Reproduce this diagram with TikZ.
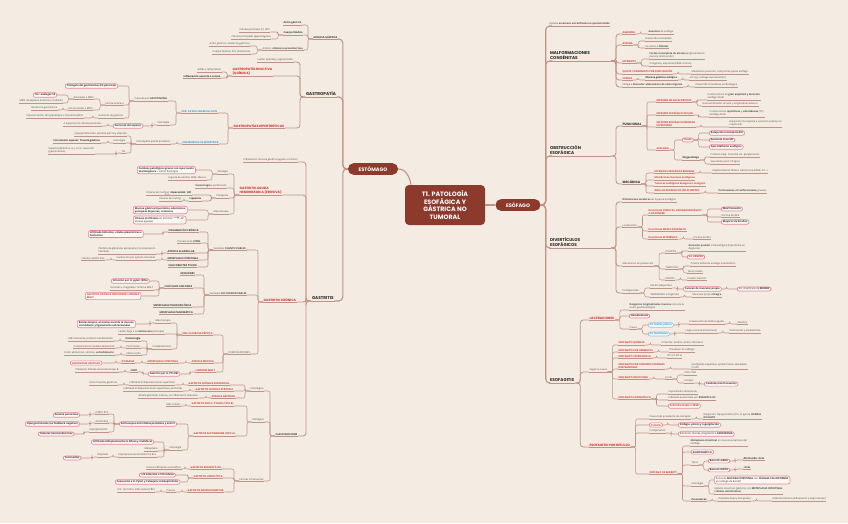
\documentclass[tikz,border=0pt]{standalone}
\usepackage{fontspec}
\setmainfont{Open Sans}
\newfontfamily\headfont{Poppins}

\definecolor{fondo}{HTML}{F4ECE3}
\definecolor{caja}{HTML}{FBF7F3}
\definecolor{linea}{HTML}{BE9486}
\definecolor{granate}{HTML}{8C3A2C}
\definecolor{rojo}{HTML}{D6332E}
\definecolor{azul}{HTML}{2C9AD3}
\definecolor{rosa}{HTML}{E7849A}
\definecolor{texto}{HTML}{4A4542}
\definecolor{oscuro}{HTML}{2E2A28}

\newcommand{\lft}[3][conn]{\draw[#1] (#2) -- ++(-5pt,0) |- (#3);}
\newcommand{\rgt}[3][conn]{\draw[#1] (#2) -- ++(5pt,0) |- (#3);}

\begin{document}
\begin{tikzpicture}[
    x=1pt, y=-1pt,
    conn/.style={draw=linea, line width=0.55pt, rounded corners=2pt},
    mid/.style={draw=linea, line width=0.85pt, rounded corners=3pt},
    main/.style={draw=linea, line width=1.1pt, rounded corners=4pt},
    txt/.style={anchor=south west, inner sep=0.5pt, align=left, text=texto,
      font=\fontsize{2.5}{3}\selectfont},
    leaf/.style={txt, append after command={(\tikzlastnode.south west) edge[conn] (\tikzlastnode.south east)}},
    bleaf/.style={leaf, text=oscuro, font=\fontsize{2.5}{3}\selectfont\bfseries},
    rleaf/.style={leaf, text=rojo, font=\fontsize{2.5}{3}\selectfont\bfseries},
    aleaf/.style={leaf, text=azul, font=\fontsize{2.5}{3}\selectfont\bfseries},
    rhead/.style={leaf, text=rojo, font=\headfont\fontsize{3.2}{3.8}\selectfont\bfseries},
    subh/.style={leaf, text=oscuro, font=\headfont\fontsize{3.2}{3.8}\selectfont\bfseries},
    head/.style={txt, inner sep=0.8pt, text=oscuro, font=\headfont\fontsize{4.2}{5}\selectfont\bfseries,
      append after command={(\tikzlastnode.south west) edge[mid] (\tikzlastnode.south east)}},
    box/.style={anchor=west, draw=rosa, line width=0.6pt, rounded corners=2pt, fill=caja,
      inner xsep=1.6pt, inner ysep=1pt, align=left, text=oscuro, font=\fontsize{2.5}{3}\selectfont\bfseries},
    boxn/.style={box, font=\fontsize{2.5}{3}\selectfont},
    rbox/.style={box, text=rojo},
    abox/.style={box, draw=azul!55, text=azul},
    pill/.style={fill=granate, text=white, rounded corners=5.5pt, minimum height=11pt, inner xsep=5pt,
      font=\headfont\fontsize{5}{6}\selectfont\bfseries},
    core/.style={fill=granate, text=white, rounded corners=4pt, minimum width=80pt, minimum height=40pt,
      align=center, font=\headfont\fontsize{6.3}{7.6}\selectfont\bfseries}
  ]

    % 1. Fondo y centro
    \useasboundingbox (0,0) rectangle (848,523);
    \fill[fondo] (0,0) rectangle (848,523);
    \node[core] (core) at (445,205) {T1. PATOLOGÍA\\ESOFÁGICA Y\\GÁSTRICA NO\\TUMORAL};
    \node[pill, minimum width=50pt] (est) at (373,169) {ESTÓMAGO};
    \node[pill, minimum width=45pt] (eso) at (518,205) {ESÓFAGO};
    \draw[main] ([xshift=-34pt]core.north) to[out=100,in=0] (est.east);
    \draw[main] (core.east) -- (eso.west);

    % 2. Estómago
    \node[bleaf] (mg) at (313,39) {MUCOSA GÁSTRICA};
    \node[head] (gp) at (305,97) {GASTROPATÍA};
    \node[head] (gt) at (311,301) {GASTRITIS};
    \foreach \n in {mg,gp,gt} {\lft[main]{est.west}{\n.south east}}

    % 2.1 Mucosa gástrica
    \node[bleaf] (mg1) at (283,25) {Antro gástrico};
    \node[bleaf] (mg2) at (283,35) {Cuerpo fúndico};
    \node[leaf] (mg21) at (239,32) {Células parietales (FI, HCl)};
    \node[leaf] (mg22) at (231,39) {Células principales (pepsinógeno)};
    \node[leaf] (mg3) at (262,50) {Ambos: \textbf{células neuroendocrinas}};
    \node[leaf] (mg31) at (209,46) {Antro gástrico: células G (gastrina)};
    \node[leaf] (mg32) at (212,54) {Cuerpo fúndico: ECL (histamina)};
    \foreach \n in {mg1,mg2,mg3} {\lft{mg.south west}{\n.south east}}
    \foreach \n in {mg21,mg22} {\lft{mg2.south west}{\n.south east}}
    \foreach \n in {mg31,mg32} {\lft{mg3.south west}{\n.south east}}

    % 2.2 Gastropatía
    \node[leaf] (gp1) at (257,62) {Lesión epitelial y regeneración};
    \node[rhead] (gpr) at (232,76) {GASTROPATÍA REACTIVA\\(QUÍMICA)};
    \node[rhead] (gph) at (233,128) {GASTROPATÍAS HIPERTRÓFICAS};
    \foreach \n in {gp1,gpr,gph} {\lft[mid]{gp.south west}{\n.south east}}
    \node[leaf] (gpr1) at (197,72) {AINEs y reflujo biliar};
    \node[bleaf] (gpr2) at (183,78) {Inflamación ausente o escasa};
    \foreach \n in {gpr1,gpr2} {\lft{gpr.south west}{\n.south east}}

    \node[aleaf] (zes) at (181,113) {SDR. DE ZOLLINGER-ELLISON};
    \node[aleaf] (mnt) at (182,144) {ENFERMEDAD DE MÉNÉTRIER};
    \foreach \n in {zes,mnt} {\lft{gph.south west}{\n.south east}}
    \node[leaf] (zes1) at (134,101) {Causado por \textbf{GASTRINOMA}};
    \node[leaf] (zes2) at (157,125) {Histología};
    \foreach \n in {zes1,zes2} {\lft{zes.south west}{\n.south east}}
    \node[box] (tri) at (65,86) {Triángulo del gastrinoma (2/3 páncreas)};
    \node[leaf] (ulc) at (105,105) {Forma la úlcera};
    \node[leaf] (aum) at (98,118) {Aumento de gastrina};
    \lft{zes1.south west}{tri.east}
    \foreach \n in {ulc,aum} {\lft{zes1.south west}{\n.south east}}
    \node[leaf] (men) at (73,99) {Asociadas a MEN};
    \node[leaf] (nomen) at (68,110) {No asociadas a MEN};
    \foreach \n in {men,nomen} {\lft{ulc.south west}{\n.south east}}
    \node[box] (tto) at (33,95) {Tto: análogos SS};
    \node[leaf] (men1) at (19,103) {MEN I (neoplasia endocrina múltiple)};
    \lft{men.south west}{tto.east}
    \lft{men.south west}{men1.south east}
    \node[leaf] (resec) at (31,110) {Resección gastrinoma};
    \lft{nomen.south west}{resec.south east}
    \node[leaf] (aum1) at (26,118) {Hipersecreción HCl (parietales) e histamina (ECL)};
    \lft{aum.south west}{aum1.south east}
    \node[box] (esp) at (113,126) {Aumento del espesor};
    \lft{zes2.south west}{esp.east}
    \node[leaf] (esp1) at (63,126) {A expensas de células parietales};
    \lft{esp.west}{esp1.south east}

    \node[leaf] (mnt1) at (136,144) {Enteropatía pierde proteínas};
    \lft{mnt.south west}{mnt1.south east}
    \node[leaf] (mnt11) at (74,136) {Hiperproliferación, pérdida parcial y alterada};
    \node[leaf] (mnt12) at (113,143) {Histología};
    \node[leaf] (mnt13) at (121,153) {Tto};
    \foreach \n in {mnt11,mnt12,mnt13} {\lft{mnt1.south west}{\n.south east}}
    \node[bleaf] (mnt121) at (53,143) {Incremento espesor: foveola gástrica};
    \lft{mnt12.south west}{mnt121.south east}
    \node[leaf] (mnt131) at (48,154) {Soporte (albúmina i.v.), si no: resección\\(gastrectomía)};
    \lft{mnt13.south west}{mnt131.south east}

    % 2.3 Gastritis
    \node[leaf] (gt1) at (243,162) {Inflamación mucosa gástrica (agudo o crónico)};
    \node[rhead] (gta) at (239,195) {GASTRITIS AGUDA\\HEMORRÁGICA (EROSIVA)};
    \node[rhead] (gtc) at (263,302) {GASTRITIS CRÓNICA};
    \node[bleaf] (cls) at (275,436) {CLASIFICACIONES};
    \foreach \n in {gt1,gta,gtc,cls} {\lft[mid]{gt.south west}{\n.south east}}

    \node[leaf] (gta1) at (217,174) {Etiología};
    \node[leaf] (gta2) at (195,188) {\textbf{Hemorragia} y perforación};
    \node[leaf] (gta3) at (216,198) {Patogenia};
    \node[leaf] (gta4) at (213,214) {Macroscopía};
    \foreach \n in {gta1,gta2,gta3,gta4} {\lft{gta.south west}{\n.south east}}
    \node[boxn] (gta11) at (137,170) {\textbf{Cambios patológicos graves con repercusión}\\\textbf{multiorgánica} + estrés fisiológico};
    \node[leaf] (gta12) at (168,180) {Ingesta de alcohol, AINE, tóxicos};
    \lft{gta1.south west}{gta11.east}
    \lft{gta1.south west}{gta12.south east}
    \node[bleaf] (gta31) at (170,195) {Hiperacidez: HCl};
    \node[bleaf] (gta32) at (189,201) {Isquemia};
    \foreach \n in {gta31,gta32} {\lft{gta3.south west}{\n.south east}}
    \node[leaf] (gta311) at (146,195) {Úlceras de Cushing};
    \node[leaf] (gta321) at (159,201) {Úlceras de Curling};
    \lft{gta31.south west}{gta311.south east}
    \lft{gta32.south west}{gta321.south east}
    \node[box] (gta41) at (133,210) {Mucosa gástrica hiperémica, edematosa,\\petequias dispersas, erosiones};
    \node[boxn] (gta42) at (133,220) {\textbf{Úlceras (no fibrosis} en el fondo $\to$ AP:\\úlceras agudas)};
    \foreach \n in {gta41,gta42} {\lft{gta4.south west}{\n.east}}

    % 2.4 Gastritis crónica
    \node[leaf] (vc) at (213,250) {Variables \textbf{CUANTIFICABLES}};
    \node[leaf] (vn) at (209,295) {Variables \textbf{NO CUANTIFICABLES}};
    \node[leaf] (cmp) at (228,354) {COMPLICACIONES};
    \foreach \n in {vc,vn,cmp} {\lft{gtc.south west}{\n.south east}}
    \node[bleaf] (vc1) at (168,232) {INFLAMACIÓN CRÓNICA};
    \node[leaf] (vc2) at (177,243) {Presencia de \textbf{LPMN}};
    \node[bleaf] (vc3) at (167,253) {ATROFIA GLANDULAR};
    \node[bleaf] (vc4) at (167,260) {METAPLASIA INTESTINAL};
    \node[bleaf] (vc5) at (168,267) {HELICOBACTER PYLORI};
    \foreach \n in {vc1,vc2,vc3,vc4,vc5} {\lft{vc.south west}{\n.south east}}
    \node[box] (vc11) at (88,234) {Infiltrado linfocitos, células plasmáticas e\\histiocitos};
    \lft{vc1.south west}{vc11.east}
    \node[leaf] (vc31) at (98,254) {Pérdida de glándulas apropiadas (no localización\\habitual)};
    \lft{vc3.south west}{vc31.south east}
    \node[leaf] (vc41) at (116,260) {Sustitución por epitelio intestinal};
    \node[leaf] (vc411) at (81,260) {Células caliciformes};
    \lft{vc4.south west}{vc41.south east}
    \lft{vc41.south west}{vc411.south east}

    \node[bleaf] (vn1) at (180,275) {EROSIONES};
    \node[bleaf] (vn2) at (164,288) {FOLÍCULOS LINFOIDES};
    \node[bleaf] (vn3) at (153,307) {METAPLASIA PSEUDOPILÓRICA};
    \node[bleaf] (vn4) at (159,314) {METAPLASIA PANCREÁTICA};
    \foreach \n in {vn1,vn2,vn3,vn4} {\lft{vn.south west}{\n.south east}}
    \node[box] (vn21) at (111,281) {Infección por H. pylori (90\%)};
    \node[leaf] (vn22) at (110,290) {Grandes e irregulares: linfoma MALT};
    \node[rbox] (vn23) at (85,296) {GASTRITIS CRÓNICA PRECURSOR LINFOMA\\MALT};
    \lft{vn2.south west}{vn21.east}
    \lft{vn2.south west}{vn22.south east}
    \lft{vn2.south west}{vn23.east}

    % 2.5 Complicaciones
    \node[rleaf] (ulp) at (182,335) {ENF. ULCEROSA PÉPTICA};
    \node[rleaf] (atm) at (191,363) {ATROFIA MUCOSA};
    \node[rleaf] (lmm) at (195,372) {LINFOMA MALT};
    \foreach \n in {ulp,atm,lmm} {\lft{cmp.south west}{\n.south east}}
    \node[leaf] (ulp1) at (155,323) {Macroscopía};
    \node[leaf] (ulp2) at (118,334) {Lesión llega a la \textbf{submucosa} (principio)};
    \node[leaf] (ulp3) at (152,349) {Complicaciones};
    \foreach \n in {ulp1,ulp2,ulp3} {\lft{ulp.south west}{\n.south east}}
    \node[box] (ulp11) at (77,324) {Bordes limpios, al mismo nivel de la mucosa\\circundante y ligeramente sobreelevados};
    \lft{ulp1.south west}{ulp11.east}
    \node[bleaf] (hem) at (125,341) {Hemorragia};
    \node[leaf] (perf) at (126,348) {Perforación};
    \node[leaf] (obst) at (126,355) {Obstrucción};
    \foreach \n in {hem,perf,obst} {\lft{ulp3.south west}{\n.south east}}
    \node[leaf] (hem1) at (68,341) {Más frecuente, primera manifestación};
    \node[leaf] (perf1) at (73,348) {Contaminación cavidad abdominal};
    \node[leaf] (obst1) at (64,355) {Dolor abdominal, vómitos, \textbf{estreñimiento}};
    \lft{hem.south west}{hem1.south east}
    \lft{perf.south west}{perf1.south east}
    \lft{obst.south west}{obst1.south east}
    \node[rleaf] (mti) at (147,363) {METAPLASIA INTESTINAL};
    \node[rleaf] (dsp) at (121,363) {DISPLASIA};
    \node[rbox] (cag) at (70,363) {CARCINOMA GÁSTRICO};
    \lft{atm.south west}{mti.south east}
    \lft{mti.south west}{dsp.south east}
    \lft{dsp.south west}{cag.east}
    \node[box] (hpb) at (148,374) {Gastritis por H. PYLORI};
    \node[bleaf] (cd20) at (130,372) {CD20};
    \node[leaf] (cd21) at (75,372) {Población linfoide monoclonal tipo B};
    \lft{lmm.south west}{hpb.east}
    \lft{hpb.west}{cd20.south east}
    \lft{cd20.south west}{cd21.south east}

    % 2.6 Clasificaciones
    \node[leaf] (his) at (250,391) {Histológica};
    \node[leaf] (eti) at (252,422) {Etiológica};
    \node[leaf] (inf) at (239,481) {Formas infrecuentes};
    \foreach \n in {his,eti,inf} {\lft{cls.south west}{\n.south east}}
    \node[rleaf] (gcs) at (188,385) {GASTRITIS CRÓNICA SUPERFICIAL};
    \node[rleaf] (gca) at (195,391) {GASTRITIS CRÓNICA ATRÓFICA};
    \node[rleaf] (atg) at (211,398) {ATROFIA GÁSTRICA};
    \foreach \n in {gcs,gca,atg} {\lft{his.south west}{\n.south east}}
    \node[leaf] (gcs1) at (129,385) {Infiltrado linfoplasmocitario superficial};
    \node[leaf] (gcs11) at (89,385) {Entre foveolas gástricas};
    \node[leaf] (gca1) at (123,391) {Infiltrado linfoplasmocitario superficial y profundo};
    \node[leaf] (atg1) at (138,398) {Atrofia glandular intensa, sin inflamación relevante};
    \lft{gcs.south west}{gcs1.south east}
    \lft{gcs1.south west}{gcs11.south east}
    \lft{gca.south west}{gca1.south east}
    \lft{atg.south west}{atg1.south east}

    \node[rleaf] (ghp) at (191,406) {GASTRITIS POR H. PYLORI (TIPO B)};
    \node[rleaf] (gai) at (193,436) {GASTRITIS AUTOINMUNE (TIPO A)};
    \foreach \n in {ghp,gai} {\lft{eti.south west}{\n.south east}}
    \node[leaf] (ghp1) at (166,406) {Más común};
    \lft{ghp.south west}{ghp1.south east}
    \node[box] (anti) at (119,424) {Anticuerpos anti células parietales y anti-FI};
    \node[leaf] (gai2) at (169,450) {Histología};
    \lft{gai.south west}{anti.east}
    \lft{gai.south west}{gai2.south east}
    \node[leaf] (b12) at (95,414) {Déficit B12};
    \node[leaf] (acl) at (95,423) {Aclorhidria};
    \node[leaf] (hecl) at (89,432) {Hiperplasia ECL};
    \foreach \n in {b12,acl,hecl} {\lft{anti.west}{\n.south east}}
    \node[box] (anp) at (53,415) {Anemia perniciosa};
    \node[box] (hgs) at (25,424) {Hipergastrinemia (no feedback negativo)};
    \node[box] (tne) at (38,434) {Tumores neuroendocrinos};
    \lft{b12.south west}{anp.east}
    \lft{acl.south west}{hgs.east}
    \lft{hecl.south west}{tne.east}
    \node[box] (gai21) at (91,442) {Infiltrado linfoplasmocitario difuso y multifocal};
    \node[leaf] (gai22) at (144,451) {Metaplasia};
    \node[leaf] (gai23) at (118,457) {Hiperplasia neuroendocrina ECL};
    \lft{gai2.south west}{gai21.east}
    \foreach \n in {gai22,gai23} {\lft{gai2.south west}{\n.south east}}
    \node[leaf] (gai231) at (97,457) {Displasia};
    \node[box] (car) at (63,458) {Carcinoides};
    \lft{gai23.south west}{gai231.south east}
    \lft{gai231.south west}{car.east}

    \node[rleaf] (geo) at (190,469) {GASTRITIS EOSINOFÍLICA};
    \node[rleaf] (gli) at (193,478) {GASTRITIS LINFOCÍTICA};
    \node[rleaf] (ggr) at (187,492) {GASTRITIS GRANULOMATOSA};
    \foreach \n in {geo,gli,ggr} {\lft{inf.south west}{\n.south east}}
    \node[leaf] (geo1) at (146,469) {Densa infiltración eosinofílica};
    \lft{geo.south west}{geo1.south east}
    \node[box] (gli1) at (139,475) {>25 linfocitos x 100 células};
    \node[box] (gli2) at (115,482) {Asociación a H. Pylori y Celiaquía: intraepiteliales};
    \foreach \n in {gli1,gli2} {\lft{gli.south west}{\n.east}}
    \node[leaf] (ggr1) at (166,492) {Causas};
    \node[leaf] (ggr11) at (117,492) {Enf. de Crohn, infecciones (TBC)};
    \lft{ggr.south west}{ggr1.south east}
    \lft{ggr1.south west}{ggr11.south east}

    % 3. Esófago
    \node[leaf] (epi) at (549,26) {Epitelio \textbf{escamoso estratificado no queratinizado}};
    \node[head, text width=60pt] (mal) at (549,61) {MALFORMACIONES\\CONGÉNITAS};
    \node[head, text width=60pt] (obe) at (549,156) {OBSTRUCCIÓN\\ESOFÁGICA};
    \node[head, text width=60pt] (div) at (549,248) {DIVERTÍCULOS\\ESOFÁGICOS};
    \node[head] (esf) at (549,383) {ESOFAGITIS};
    \foreach \n in {epi,mal,obe,div,esf} {\rgt[main]{eso.east}{\n.south west}}

    % 3.1 Malformaciones
    \node[rleaf] (age) at (622,34) {AGENESIA};
    \node[rleaf] (atr) at (622,45) {ATRESIA};
    \node[rleaf] (ste) at (622,63) {ESTENOSIS};
    \node[rleaf] (qui) at (622,74) {QUISTE CONGÉNITOS POR DUPLICACIÓN};
    \node[rleaf] (her) at (622,80) {HERNIA};
    \node[leaf] (obl) at (622,87) {Obliga a \textbf{descartar alteraciones de otros órganos}};
    \foreach \n in {age,atr,ste,qui,her,obl} {\rgt[mid]{mal.south east}{\n.south west}}
    \node[leaf] (age1) at (648,34) {\textbf{Ausencia} de esófago};
    \rgt{age.south east}{age1.south west}
    \node[leaf] (atr1) at (645,41) {Desarrollo incompleto};
    \node[leaf] (atr2) at (645,48) {Se asocia a \textbf{fístulas}};
    \foreach \n in {atr1,atr2} {\rgt{atr.south east}{\n.south west}}
    \node[leaf] (ste1) at (649,59) {\textbf{Forma incompleta de atresia} (engrosamiento\\pared y obstrucción)};
    \node[leaf] (ste2) at (649,66) {Congénita, adquirida (ERGE crónica)};
    \foreach \n in {ste1,ste2} {\rgt{ste.south east}{\n.south west}}
    \node[leaf] (qui1) at (691,74) {Mediastino posterior, comprimen pared esófago};
    \rgt{qui.south east}{qui1.south west}
    \node[bleaf] (her1) at (645,80) {Mucosa gástrica ectópica};
    \node[leaf] (her2) at (689,80) {2/3 reg. esófago (asintomático)};
    \rgt{her.south east}{her1.south west}
    \rgt{her1.south east}{her2.south west}
    \node[leaf] (obl1) at (695,87) {Desarrollo simultáneo embriológico};
    \rgt{obl.south east}{obl1.south west}

    % 3.2 Obstrucción
    \node[subh] (fun) at (622,126) {FUNCIONAL};
    \node[subh] (mec) at (622,184) {MECÁNICA};
    \foreach \n in {fun,mec} {\rgt[mid]{obe.south east}{\n.south west}}
    \node[rleaf] (esc) at (656,102) {ESPASMO EN SACACORCHOS};
    \node[rleaf] (edf) at (656,115) {ESPASMO ESOFÁGICO DIFUSO};
    \node[rleaf] (eei) at (656,127) {ESFÍNTER ESOFÁGICO INFERIOR\\HIPERTENSO};
    \node[rleaf] (aca) at (656,150) {ACALASIA};
    \foreach \n in {esc,edf,eei,aca} {\rgt{fun.south east}{\n.south west}}
    \node[leaf] (esc1) at (707,100) {Contracciones de \textbf{gran amplitud y duración}\\esófago distal};
    \node[leaf] (esc2) at (702,106) {Descoordinación circular y longitudinal anterior};
    \foreach \n in {esc1,esc2} {\rgt{esc.south east}{\n.south west}}
    \node[leaf] (edf1) at (709,117) {Contracciones \textbf{repetitivas} y \textbf{simultáneas} (TC),\\esófago distal};
    \rgt{edf.south east}{edf1.south west}
    \node[leaf] (eei1) at (729,127) {Relajación incompleta o aumento presión en\\reposo EEI};
    \rgt{eei.south east}{eei1.south west}
    \node[rbox] (tri2) at (682,140) {Tríada};
    \node[bleaf] (meg) at (682,160) {Megaesófago};
    \rgt{aca.south east}{tri2.west}
    \rgt{aca.south east}{meg.south west}
    \node[box] (t1) at (709,133) {Relajación incompleta EEI};
    \node[box] (t2) at (709,140) {Aumento tono EEI};
    \node[box] (t3) at (709,147) {Aperistaltismo esofágico};
    \foreach \n in {t1,t2,t3} {\rgt{tri2.east}{\n.west}}
    \node[leaf] (meg1) at (710,157) {Primaria (deg. neuronal cél. ganglionares)};
    \node[leaf] (meg2) at (710,164) {Secundaria (enf. Chagas)};
    \foreach \n in {meg1,meg2} {\rgt{meg.south east}{\n.south west}}

    \node[rleaf] (eeb) at (654,173) {ESTENOSIS ESOFÁGICA BENIGNA};
    \node[rleaf] (mem) at (654,180) {Membranas mucosas esofágicas};
    \node[rleaf] (tum) at (654,186) {Tumores esofágicos benignos o malignos};
    \node[rleaf] (ani) at (654,193) {ANILLOS ESOFÁGICOS (DE SCHATZKI)};
    \foreach \n in {eeb,mem,tum,ani} {\rgt{mec.south east}{\n.south west}}
    \node[leaf] (eeb1) at (712,173) {Engrosamiento fibroso submucosa (ERGE, RT...)};
    \rgt{eeb.south east}{eeb1.south west}
    \node[leaf] (ani1) at (718,193) {\textbf{Protrusiones circunferenciales} gruesas};
    \rgt{ani.south east}{ani1.south west}

    % 3.3 Divertículos
    \node[leaf] (div1) at (622,202) {\textbf{Dilataciones saculares} de la pared esofágica};
    \node[leaf] (loc) at (622,227) {Localización};
    \node[leaf] (mpr) at (622,266) {Mecanismo de producción};
    \node[leaf] (cfg) at (622,293) {Configuración};
    \foreach \n in {div1,loc,mpr,cfg} {\rgt[mid]{div.south east}{\n.south west}}
    \node[rleaf] (zen) at (648,215) {Divertículo CERVICAL, FARINGOESOFÁGICO\\O DE ZENKER};
    \node[rleaf] (dme) at (648,231) {Divertículo MEDIO ESOFÁGICO};
    \node[rleaf] (dep) at (648,239) {Divertículo EPIFRÉNICO};
    \foreach \n in {zen,dme,dep} {\rgt{loc.south east}{\n.south west}}
    \node[box] (z1) at (721,209) {Más frecuente};
    \node[leaf] (z2) at (721,217) {Encima del EES};
    \node[box] (z3) at (721,222) {Mayores de 50 años};
    \rgt{zen.south east}{z1.west}
    \rgt{zen.south east}{z2.south west}
    \rgt{zen.south east}{z3.west}
    \node[leaf] (dep1) at (693,239) {Encima del EEI};
    \rgt{dep.south east}{dep1.south west}
    \node[leaf] (pul) at (665,253) {PULSIÓN};
    \node[leaf] (trc) at (665,269) {TRACCIÓN};
    \node[leaf] (mix) at (665,280) {MIXTOS};
    \foreach \n in {pul,trc,mix} {\rgt{mpr.south east}{\n.south west}}
    \node[leaf] (pul1) at (688,251) {\textbf{Aumento presión} intraesofágica (hipertonía) en\\deglución};
    \node[rbox] (pul2) at (687,257) {Sd. ZENKER};
    \rgt{pul.south east}{pul1.south west}
    \rgt{pul.south east}{pul2.west}
    \node[leaf] (trc1) at (690,266) {Cicatriz adherida esófago (mediastino)};
    \node[leaf] (trc2) at (687,273) {Tercio medio};
    \foreach \n in {trc1,trc2} {\rgt{trc.south east}{\n.south west}}
    \node[leaf] (mix1) at (687,280) {Pulsión-tracción};
    \rgt{mix.south east}{mix1.south west}
    \node[leaf] (fal) at (650,288) {FALSO (adquirido)};
    \node[leaf] (ver) at (650,297) {VERDADERO (congénito)};
    \foreach \n in {fal,ver} {\rgt{cfg.south east}{\n.south west}}
    \node[box] (fal1) at (683,289) {Carecen de muscular propia};
    \node[boxn] (fal2) at (737,289) {Sd. divertículo de \textbf{ZENKER}};
    \rgt{fal.south east}{fal1.west}
    \rgt{fal1.east}{fal2.west}
    \node[leaf] (ver1) at (692,297) {Muscular propia \textbf{íntegra}};
    \rgt{ver.south east}{ver1.south west}

    % 3.4 Esofagitis
    \node[rhead] (lac) at (589,320) {LACERACIONES};
    \node[leaf] (sgc) at (589,372) {Según la causa};
    \node[rhead] (erf) at (589,447) {ESOFAGITIS POR REFLUJO};
    \foreach \n in {lac,sgc,erf} {\rgt[mid]{esf.south east}{\n.south west}}
    \node[leaf] (lac1) at (629,310) {\textbf{Desgarros longitudinales mucosa} cerca de la\\unión gastroesofágica};
    \node[box] (lac2) at (629,316) {Hematemesis};
    \node[leaf] (lac3) at (629,329) {Causa};
    \rgt{lac.south east}{lac1.south west}
    \rgt{lac.south east}{lac2.west}
    \rgt{lac.south east}{lac3.south west}
    \node[abox] (mw) at (648,325) {Sd. Mallory-Weiss};
    \node[abox] (bh) at (648,334) {Sd. Boerhaave};
    \foreach \n in {mw,bh} {\rgt{lac3.south east}{\n.west}}
    \node[leaf] (mw1) at (689,324) {Intoxicación alcohólica aguda};
    \node[leaf] (mw2) at (737,324) {Vómitos};
    \rgt{mw.east}{mw1.south west}
    \rgt{mw1.south east}{mw2.south west}
    \node[leaf] (bh1) at (685,333) {Llega a serosa (transmural)};
    \node[leaf] (bh2) at (729,333) {Perforación y mediastinitis};
    \rgt{bh.east}{bh1.south west}
    \rgt{bh1.south east}{bh2.south west}

    \node[rleaf] (eq) at (618,345) {ESOFAGITIS QUÍMICA};
    \node[rleaf] (ef) at (618,352) {ESOFAGITIS POR FÁRMACOS};
    \node[rleaf] (ey) at (618,358) {ESOFAGITIS YATROGÉNICA};
    \node[rleaf] (ec) at (618,369) {ESOFAGITIS POR LESIONES CUTÁNEAS\\DESCAMATIVAS};
    \node[rleaf] (ei) at (618,379) {ESOFAGITIS INFECCIOSA};
    \node[rleaf] (ee) at (618,399) {ESOFAGITIS EOSINOFÍLICA};
    \foreach \n in {eq,ef,ey,ec,ei,ee} {\rgt{sgc.south east}{\n.south west}}
    \node[leaf] (eq1) at (661,345) {Irritantes: alcohol, ácidos, fármacos};
    \node[leaf] (ef1) at (669,352) {Disuelven en esófago};
    \node[leaf] (ey1) at (667,358) {RT, QT, EICH};
    \node[leaf] (ec1) at (691,369) {Penfigoide ampolloso, epidermolisis ampollosa,\\Crohn};
    \node[leaf] (ei1) at (665,379) {En ID};
    \rgt{eq.south east}{eq1.south west}
    \rgt{ef.south east}{ef1.south west}
    \rgt{ey.south east}{ey1.south west}
    \rgt{ec.south east}{ec1.south west}
    \rgt{ei.south east}{ei1.south west}
    \node[leaf] (ei11) at (684,375) {VHS, CMV};
    \node[leaf] (ei12) at (684,383) {Hongos};
    \foreach \n in {ei11,ei12} {\rgt{ei1.south east}{\n.south west}}
    \node[box] (ei121) at (704,384) {Cándida (más frecuente)};
    \rgt{ei12.south east}{ei121.west}
    \node[leaf] (ee1) at (668,394) {Impactación alimentaria};
    \node[leaf] (ee2) at (668,400) {Infiltrado aumentado por \textbf{EOSINÓFILOS}};
    \node[rbox] (ee3) at (668,406) {Asociada atopia o ERGE};
    \rgt{ee.south east}{ee1.south west}
    \rgt{ee.south east}{ee2.south west}
    \rgt{ee.south east}{ee3.west}

    \node[leaf] (erf1) at (649,419) {Causa más prevalente de esofagitis};
    \node[rbox] (cli) at (649,425) {CLÍNICA};
    \node[leaf] (cpl) at (649,433) {Complicación};
    \node[rleaf] (bar) at (649,474) {ESÓFAGO DE BARRETT};
    \rgt{erf.south east}{erf1.south west}
    \rgt{erf.south east}{cli.west}
    \rgt{erf.south east}{cpl.south west}
    \rgt{erf.south east}{bar.south west}
    \node[leaf] (erf11) at (703,419) {Relajación, hipoperistalsis (CO, H. pylori), \textbf{HERNIA}\\\textbf{DE HIATO}};
    \rgt{erf1.south east}{erf11.south west}
    \node[box] (cli1) at (678,425) {Disfagia, pirosis y regurgitación};
    \rgt{cli.east}{cli1.west}
    \node[boxn] (cpl1) at (678,434) {Estenosis, úlceras, progresión a \textbf{CARCINOMA}};
    \rgt{cpl.south east}{cpl1.west}
    \node[leaf] (bar1) at (690,446) {\textbf{Metaplasia intestinal} en mucosa escamosa del\\esófago};
    \node[box] (bar2) at (691,452) {ASINTOMÁTICO};
    \node[leaf] (bar3) at (691,465) {Tipos};
    \node[leaf] (bar4) at (691,486) {Histología};
    \node[bleaf] (bar5) at (691,501) {Precursores};
    \rgt{bar.south east}{bar2.west}
    \foreach \n in {bar1,bar3,bar4,bar5} {\rgt{bar.south east}{\n.south west}}
    \node[box] (bl) at (708,461) {Barrett LARGO};
    \node[box] (bc) at (708,470) {Barrett CORTO};
    \foreach \n in {bl,bc} {\rgt{bar3.south east}{\n.west}}
    \node[bleaf] (bl1) at (743,460) {Afectación >3cm};
    \node[bleaf] (bc1) at (743,469) {<3cm};
    \rgt{bl.east}{bl1.south west}
    \rgt{bc.east}{bc1.south west}
    \node[boxn] (bh4) at (714,480) {Zonas de \textbf{MUCOSA INTESTINAL} con \textbf{CÉLULAS CALICIFORMES}\\en esófago de Barrett};
    \node[leaf] (bh5) at (714,494) {Epitelio columnar (gástrico) con \textbf{METAPLASIA INTESTINAL}\\\textbf{(células caliciformes)}};
    \rgt{bar4.south east}{bh4.west}
    \rgt{bar4.south east}{bh5.south west}
    \node[leaf] (bar51) at (718,501) {Displasia (bajo y alto grado)};
    \node[leaf] (bar52) at (772,501) {Adenocarcinoma (inflamación y largo tiempo)};
    \rgt{bar5.south east}{bar51.south west}
    \rgt{bar51.south east}{bar52.south west}

  \end{tikzpicture}
\end{document}
